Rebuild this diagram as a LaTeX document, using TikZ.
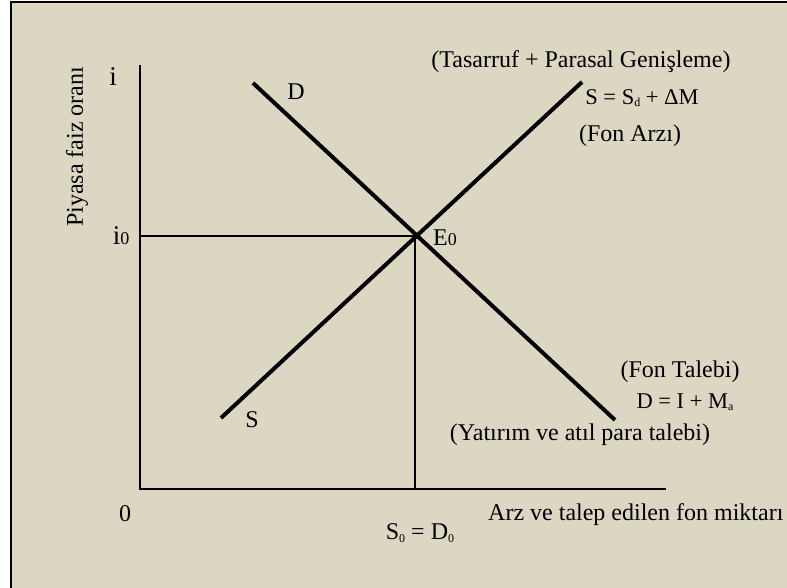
\documentclass[tikz,border=0pt]{standalone}
\usepackage{fontspec}
\setmainfont{Liberation Serif}
\definecolor{bg}{RGB}{220,215,194}
\newcommand{\sbx}[1]{\raisebox{-0.25ex}{\fontsize{12}{12}\selectfont #1}}
\newcommand{\szero}{{\fontsize{18}{18}\selectfont 0}}
\begin{document}
\begin{tikzpicture}[x=1pt,y=-1pt,
  lbl/.style={inner sep=0pt, font=\fontsize{24}{28}\selectfont},
  big/.style={inner sep=0pt, font=\fontsize{27}{30}\selectfont},
  eq/.style={inner sep=0pt, font=\fontsize{22.5}{26}\selectfont},
  curve/.style={line width=4pt},
  axis/.style={line width=2.5pt, line join=miter},
  guide/.style={line width=1.6pt}]
\useasboundingbox (0,0) rectangle (787,588);
\fill[white] (0,0) rectangle (787,588);
\fill[bg] (11,2) rectangle (787,588);
\draw[line width=2pt] (11,588) -- (11,2) -- (787,2);
% key points
\coordinate (O) at (140,489);
\coordinate (Ytop) at (140,65);
\coordinate (Xend) at (666,489);
\coordinate (E) at (415,236);
\coordinate (I0) at (140,236);
\coordinate (Q0) at (415,489);
\coordinate (Dtop) at (253,83);
\coordinate (Dbot) at (615,420);
\coordinate (Sbot) at (221,418);
\coordinate (Stop) at (582,82);
% axes and guides
\draw[axis] (Ytop) -- (O) -- (Xend);
\draw[guide] (I0) -- (E) -- (Q0);
% curves
\draw[curve] (Dtop) -- (Dbot);
\draw[curve] (Sbot) -- (Stop);
% labels
\node[lbl, rotate=90] (ylab) at (77,147) {Piyasa faiz oranı};
\node[big] (ilab) at (113,77) {i};
\node[big] (i0lab) at (121,236) {i\szero};
\node[lbl] (olab) at (125,514) {0};
\node[lbl] (dlab) at (296,92) {D};
\node[lbl] (slab) at (252,420) {S};
\node[lbl] (elab) at (445,238) {E\szero};
\node[lbl] (tas) at (581,62) {(Tasarruf + Parasal Genişleme)};
\node[eq] (seq) at (642,98) {S = S\sbx{d} + ΔM};
\node[lbl] (fa) at (630,136) {(Fon Arzı)};
\node[lbl] (ft) at (680,372) {(Fon Talebi)};
\node[eq] (deq) at (685,402) {D = I + M\sbx{a}};
\node[lbl] (yat) at (580,435) {(Yatırım ve atıl para talebi)};
\node[lbl] (sd) at (420,533) {S\sbx{0} = D\sbx{0}};
\node[lbl, anchor=west] (xlab) at (488,515) {Arz ve talep edilen fon miktarı};
\end{tikzpicture}
\end{document}
